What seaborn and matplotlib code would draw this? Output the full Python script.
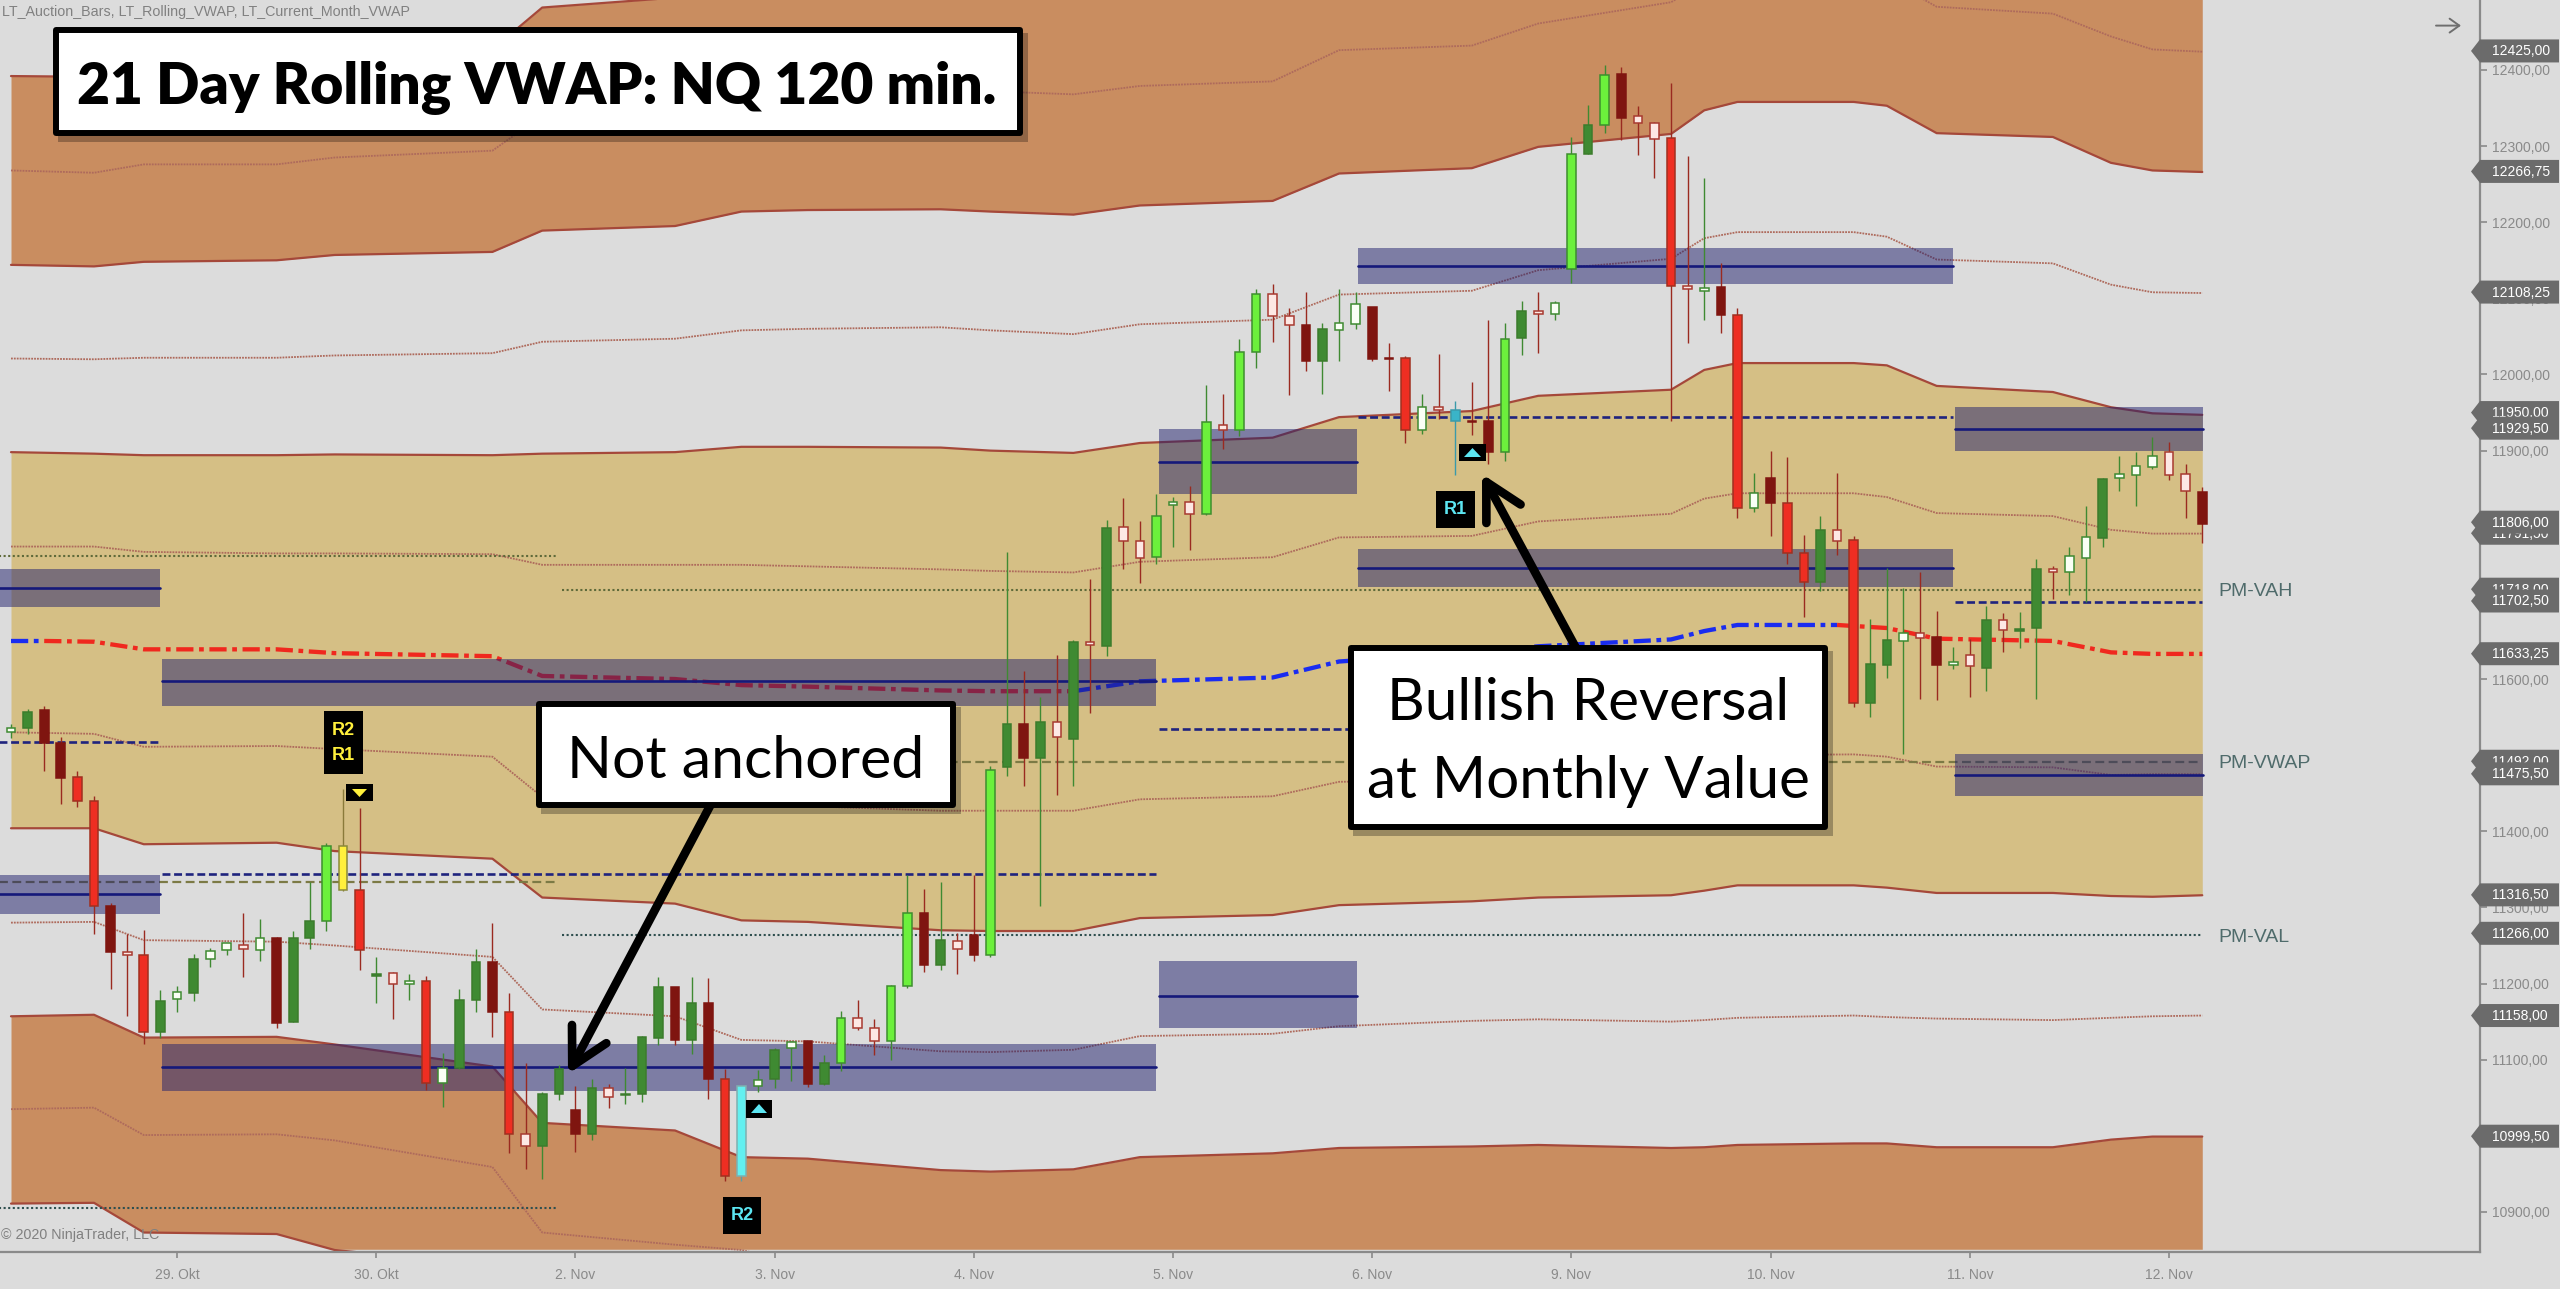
import numpy as np
import matplotlib
matplotlib.use("Agg")
import matplotlib.pyplot as plt
from matplotlib.patches import Rectangle, Polygon, FancyArrowPatch
import seaborn as sns

# ---------- candles (prices) ----------
high = [11541,11561,11565,11524,11479,11447,11306,11265,11271,11191,11197,11239,11247,11253,11293,11285,11261,11269,11333,11384,11455,11430,11235,11215,11212,11210,11109,11193,11245,11280,11187,11096,11058,11093,11066,11075,11068,11089,11131,11208,11196,11208,11207,11088,11067,11086,11115,11124,11124,11106,11164,11179,11154,11198,11343,11324,11333,11267,11343,11486,11767,11610,11577,11632,11651,11731,11809,
        11838,11807,11843,11839,11853,11986,11975,12046,12112,12119,12087,12108,12067,12112,12108,12089,12041,12024,11974,12027,11965,11990,12071,12067,12097,12109,12096,12312,12354,12407,12404,12353,12331,12383,12287,12258,12147,12087,11871,11899,11892,11789,11814,11871,
        11788,11679,11746,11720,11741,11689,11642,11653,11696,11687,11688,11758,11749,11774,11827,11864,11893,11898,11918,11911,11883,11852]
body_top = [11536,11557,11559,11516,11471,11440,11302,11242,11237,11177,11189,11232,11243,11253,11251,11260,11260,11260,11282,11381,11381,11323,11212,11214,11203,11203,11089,11178,11228,11228,11163,11003,11055,11088,11034,11063,11063,11055,11130,11196,11196,11175,11175,11074,11066,11073,11113,11123,11124,11095,11155,11155,11141,11197,11293,11293,11257,11256,11264,11480,11541,11541,11544,11544,11649,11649,11799,
            11800,11781,11814,11833,11833,11937,11934,12030,12106,12106,12077,12065,12060,12067,12092,12088,12022,12022,11957,11957,11953,11939,11939,12047,12083,12083,12094,12290,12328,12394,12395,12339,12330,12311,12116,12114,12115,12078,11845,11864,11831,11766,11796,11796,
            11782,11620,11651,11660,11660,11655,11623,11632,11678,11678,11666,11745,11745,11761,11786,11863,11869,11880,11893,11898,11869,11846]
body_bot = [11530,11536,11516,11470,11440,11302,11242,11237,11136,11136,11180,11187,11232,11244,11246,11244,11148,11150,11260,11282,11323,11244,11210,11199,11199,11070,11070,11089,11178,11163,11003,10987,10986,11055,11002,11003,11051,11053,11055,11129,11126,11126,11074,10947,10947,11066,11074,11116,11068,11068,11095,11141,11125,11124,11197,11224,11224,11245,11238,11238,11484,11496,11496,11524,11521,11645,11643,
            11781,11759,11760,11829,11817,11817,11927,11927,12029,12077,12065,12018,12018,12059,12066,12020,12020,11927,11927,11953,11939,11937,11898,11898,12048,12079,12080,12139,12290,12328,12337,12330,12309,12116,12112,12110,12078,11824,11825,11831,11766,11728,11728,11781,
            11569,11569,11619,11650,11654,11619,11619,11617,11615,11665,11663,11667,11741,11741,11759,11785,11864,11868,11879,11868,11847,11804]
low = [11523,11528,11479,11436,11432,11265,11193,11158,11121,11128,11163,11177,11222,11237,11209,11229,11142,11149,11245,11269,11321,11218,11174,11154,11179,11060,11038,11088,11163,11130,10977,10956,10943,11047,10979,10994,11037,11042,11044,11119,11119,11107,11048,10941,10941,11058,11063,11072,11064,11067,11085,11139,11106,11100,11194,11215,11218,11212,11229,11235,11473,11460,11302,11448,11460,11555,11630,
       11745,11726,11751,11773,11770,11816,11902,11919,12009,12043,11973,12004,11974,12018,12060,12018,11978,11910,11922,11941,11868,11921,11882,11887,12026,12028,12072,12120,12289,12317,12308,12288,12258,11939,12041,12072,12055,11811,11819,11788,11751,11682,11716,11763,
       11563,11550,11602,11502,11574,11572,11613,11577,11584,11636,11641,11574,11705,11710,11701,11774,11847,11827,11876,11861,11811,11779]
kinds = ("wg g dr dr r r dr wr r g wg g wg wg wr wg dr g g l y r g wr wg r wg g g dr r wr g g dr g wr g g g dr g dr r c wg g wg dr g l wr wr l l dr g wr dr l g dr g wr g wr g "
         "wr wr l wg wr l wr l l wr wr dr g wg wg dr dr r wg wr t dr dr l g wr wg l g l dr wr wr r wr wg dr r wg dr r r g wr "
         "r g g wg wr dr wg wr g wr g g wr wg wg g wg wg wg wr wr dr").split()

# ---------- rolling VWAP bands, read at these bar positions ----------
knots = [0,5,8,16,19.5,29,32,40,44,48,56,59,64,68,76,80,88,92,100,102,104,111,113,116,123,126.5,129,132]
band_p6 = [12392,12391,12395,12398,12405,12427,12482,12495,12510,12515,12520,12520,12520,12530,12540,12560,12560,12580,12600,12620,12640,12640,12640,12620,12610,12590,12585,12583]
band_p5 = [12268,12265,12276,12276,12285,12294,12340,12345,12360,12365,12375,12372,12368,12379,12385,12426,12432,12461,12489,12515,12530,12530,12520,12483,12474,12444,12427,12424]
band_p4 = [12144,12142,12148,12150,12157,12161,12189,12195,12214,12216,12217,12214,12210,12222,12228,12264,12271,12299,12316,12347,12358,12358,12353,12317,12312,12278,12268,12266]
band_p3 = [12021,12020,12022,12022,12025,12028,12043,12047,12058,12060,12062,12058,12053,12066,12072,12105,12110,12137,12152,12179,12187,12187,12181,12151,12146,12118,12108,12107]
band_p2 = [11898,11896,11894,11894,11895,11894,11896,11898,11905,11905,11904,11900,11897,11910,11917,11944,11952,11972,11980,12006,12015,12015,12012,11985,11977,11957,11949,11947]
band_p1 = [11774,11774,11767,11765,11765,11764,11750,11750,11750,11748,11744,11742,11740,11754,11760,11786,11788,11807,11817,11837,11844,11844,11839,11818,11814,11796,11791,11791]
band_m1 = [11530,11528,11511,11512,11508,11498,11445,11438,11435,11433,11427,11427,11427,11442,11446,11465,11467,11472,11480,11492,11500,11501,11498,11485,11484,11474,11475,11475]
band_m2 = [11404,11404,11383,11385,11374,11364,11313,11305,11283,11281,11270,11269,11269,11286,11290,11303,11308,11313,11316,11322,11329,11329,11326,11319,11319,11315,11314,11316]
band_m3 = [11280,11281,11257,11255,11250,11235,11166,11157,11126,11124,11111,11110,11113,11131,11134,11144,11151,11153,11150,11152,11155,11158,11156,11154,11152,11155,11157,11158]
band_m4 = [11157,11159,11129,11130,11120,11091,11017,11007,10972,10970,10955,10953,10956,10972,10977,10984,10986,10988,10984,10985,10988,10990,10990,10985,10985,10995,10999,10999]
band_m5 = [11035,11037,11001,11002,10994,10959,10873,10857,10850,10830,10820,10820,10820,10825,10828,10830,10830,10830,10830,10830,10830,10830,10830,10830,10830,10830,10830,10830]
band_m6 = [10911,10912,10873,10871,10850,10830,10760,10750,10720,10718,10700,10700,10700,10720,10720,10730,10740,10740,10740,10740,10740,10740,10740,10730,10730,10735,10740,10740]

vwap_blue1_x = [0,2];  vwap_blue1 = [11650,11650]
vwap_red1_x = [2,5,8,16,19.5,29,32,40,44,48,56,59,64]
vwap_red1 = [11650,11649,11639,11639,11634,11630,11604,11600,11592,11590,11585,11584,11584]
vwap_blue2_x = [64,68,76,80,88,92,100,102,104,110]
vwap_blue2 = [11584,11597,11602,11623,11635,11643,11652,11663,11671,11671]
vwap_red2_x = [110,113,116,123,126.5,129,132]
vwap_red2 = [11671,11667,11653,11650,11635,11633,11633]

# ---------- value zones: start, end, top, bottom, centre ----------
zone_start  = [-0.7,9.1,-0.7,9.1,69.15,69.15,81.15,81.15,117.1,117.1]
zone_end    = [9.0,69.0,9.0,69.0,81.1,81.1,117.0,117.0,132.05,132.05]
zone_top    = [11744,11626,11342,11120,11229,11928,12166,11771,11957,11501]
zone_bottom = [11694,11565,11292,11059,11142,11843,12119,11721,11899,11447]
zone_centre = [11719,11597,11317,11091,11184,11885,12142,11746,11928,11474]

# ---------- horizontal levels: start, end, price, colour, style ----------
level_start = [-0.7,33.2,-0.7,9.1,-0.7,-0.7,33.2,33.2,69.15,81.15,117.1]
level_end   = [32.9,132,32.9,69,9,32.9,132,132,81,117,132]
level_price = [11762,11717,11333,11344,11517,10905,11264,11491,11535,11944,11701]
level_kind  = ["vah","vah","vwap","poc","poc","val","val","vwap","poc","poc","poc"]

# ---------- axis text ----------
date_bars = [10,22,34,46,58,70,82,94,106,118,130]
date_labels = ["29. Okt","30. Okt","2. Nov","3. Nov","4. Nov","5. Nov","6. Nov","9. Nov","10. Nov","11. Nov","12. Nov"]
price_ticks = [12400,12300,12200,12100,12000,11900,11800,11700,11600,11500,11400,11300,11200,11100,11000,10900]
tag_prices = [12425,12266.75,12108.25,11950,11929.5,11791.5,11806,11718,11702.5,11633.25,11492,11475.5,11316.5,11266,11158,10999.5]

BG = "#DCDCDC"; GREY = "#8A8A8A"
sns.set_theme(style="white", rc={"figure.facecolor":BG,"axes.facecolor":BG,"savefig.facecolor":BG,
    "axes.edgecolor":GREY,"xtick.color":GREY,"ytick.color":GREY,"text.color":GREY})
plt.rcParams["font.family"] = ["Liberation Sans","DejaVu Sans"]

W,H = 2560,1289
fig = plt.figure(figsize=(W/100,H/100),dpi=100)
ax = fig.add_axes([0,(H-1252)/H,2480/W,1252/H])
ax.set_xlim(-0.663,148.73)
ax.set_ylim(10847.4,12491.9)

k = np.array(knots)
ax.fill_between(k,band_m2,band_p2,color="#D5BF85",lw=0,zorder=1)
ax.fill_between(k,band_p4,band_p6,color="#C98D60",lw=0,zorder=1)
ax.fill_between(k,np.maximum(band_m6,10851),band_m4,color="#C98D60",lw=0,zorder=1)

for b in (band_p6,band_p4,band_p2,band_m2,band_m4,band_m6):
    sns.lineplot(x=knots,y=b,ax=ax,estimator=None,color="#A5483A",lw=1.6,zorder=2)
for b in (band_p5,band_p3,band_p1,band_m1,band_m3,band_m5):
    sns.lineplot(x=knots,y=b,ax=ax,estimator=None,color="#AE6A5C",lw=1.3,linestyle=(0,(1,0.6)),zorder=2)

dd = (0,(4,1.3,1.1,1.3))
for xs,ys,c in ((vwap_blue1_x,vwap_blue1,"#1A2CF0"),(vwap_red1_x,vwap_red1,"#F0281E"),
                (vwap_blue2_x,vwap_blue2,"#1A2CF0"),(vwap_red2_x,vwap_red2,"#F0281E")):
    sns.lineplot(x=xs,y=ys,ax=ax,estimator=None,color=c,lw=3.1,linestyle=dd,zorder=3)

lvl = {"vah":("#5F6A3A",(0,(1,1.2)),1.5),"val":("#2F4F4F",(0,(1,1.2)),1.5),
       "vwap":("#7C7A45",(0,(4,2)),1.6),"poc":("#1F237E",(0,(3,1.4)),1.9)}
for s,e,p,kd in zip(level_start,level_end,level_price,level_kind):
    c,ls,lw = lvl[kd]
    ax.plot([s,e],[p,p],color=c,ls=ls,lw=lw,zorder=3)

for s,e,t,b,c in zip(zone_start,zone_end,zone_top,zone_bottom,zone_centre):
    ax.add_patch(Rectangle((s,b),e-s,t-b,fc="#20206E",ec="none",alpha=0.5,zorder=4))
    ax.plot([s,e],[c,c],color="#15197A",lw=1.9,zorder=4.5)

style = {"g":("#3F8A32","#3C7C2C","#3F8A32"),"l":("#6CF03C","#3E8E2E","#3F8A32"),
         "r":("#EE2E22","#A03020","#9A2A20"),"dr":("#7F1510","#7F1510","#9A2A20"),
         "wg":("#FAFFF5","#3F8A32","#3F8A32"),"wr":("#FDE8E4","#A83A30","#9A2A20"),
         "y":("#FFF03C","#8A8A3A","#8A7A3A"),"c":("#62F0F0","#7FB0B0","#5AA0A8"),
         "t":("#3AB4C8","#3A9AAA","#3A9AAA")}
for i,(h,t,b,l,kd) in enumerate(zip(high,body_top,body_bot,low,kinds)):
    f,e,w = style[kd]
    ax.vlines(i,l,h,color=w,lw=1.0,zorder=5)
    ax.bar(i,t-b,bottom=b,width=0.52,color=f,edgecolor=e,lw=1.1,zorder=6)

for s in ("left","top"):
    ax.spines[s].set_visible(False)
for s in ("right","bottom"):
    ax.spines[s].set_color(GREY); ax.spines[s].set_linewidth(1.6)
ax.yaxis.tick_right()
ax.set_yticks(price_ticks)
ax.set_yticklabels([f"{p:.2f}".replace(".",",") for p in price_ticks],fontsize=10)
ax.tick_params(axis="y",length=5,width=1.2,pad=3.6,color=GREY,right=True)
ax.set_xticks(date_bars)
ax.set_xticklabels(date_labels,fontsize=10)
ax.tick_params(axis="x",length=4.5,width=1.2,pad=7,color=GREY,bottom=True)

# ---------- overlay in picture pixels for labels, callouts and tags ----------
ov = fig.add_axes([0,0,1,1],zorder=10)
ov.set_xlim(0,W); ov.set_ylim(H,0); ov.axis("off"); ov.patch.set_alpha(0)
fig.canvas.draw()
def ypx(p):
    return H-ax.transData.transform((0,p))[1]

z = 20
for p in tag_prices:
    y = ypx(p)
    ov.add_patch(Polygon([(2471,y),(2480,y-11.5),(2559,y-11.5),(2559,y+11.5),(2480,y+11.5)],fc="#6B6B6B",ec="none",zorder=z))
    ov.text(2492,y+0.5,f"{p:.2f}".replace(".",","),color="white",fontsize=10,va="center",ha="left",zorder=z+0.5)
    z += 1

ov.add_patch(FancyArrowPatch((2436,25.6),(2461,25.6),arrowstyle="->,head_length=7,head_width=5",lw=1.4,color="#6E6E6E",mutation_scale=1,shrinkA=0,shrinkB=0))
ov.text(1.5,12,"LT_Auction_Bars, LT_Rolling_VWAP, LT_Current_Month_VWAP",fontsize=10.3,color="#808080",va="center")
ov.text(1,1235,"© 2020 NinjaTrader, LLC",fontsize=10.3,color="#808080",va="center")
for t,y in (("PM-VAH",592),("PM-VWAP",764),("PM-VAL",937)):
    ov.text(2218,y,t,fontsize=14,color="#4F6B6B",va="center")

# signal tags
def tag(x0,y0,x1,y1):
    ov.add_patch(Rectangle((x0,y0),x1-x0,y1-y0,fc="black",ec="none",zorder=8))
tag(324,711,363,774)
ov.text(343.5,730.5,"R2",color="#FFF03C",fontsize=13,fontweight="bold",ha="center",va="center",zorder=9)
ov.text(343.5,756,"R1",color="#FFF03C",fontsize=13,fontweight="bold",ha="center",va="center",zorder=9)
tag(723,1197,761,1234)
ov.text(742,1216,"R2",color="#5CE6F2",fontsize=13,fontweight="bold",ha="center",va="center",zorder=9)
tag(1436,491,1475,527.5)
ov.text(1455.5,510,"R1",color="#5CE6F2",fontsize=13,fontweight="bold",ha="center",va="center",zorder=9)
tag(346,784,373,801)
ov.add_patch(Polygon([(352,789),(367,789),(359.5,797)],fc="#FFF03C",ec="none",zorder=9))
tag(746,1100,772,1118)
ov.add_patch(Polygon([(751,1113),(767,1113),(759,1104)],fc="#5CE6F2",ec="none",zorder=9))
tag(1459,444,1486,461)
ov.add_patch(Polygon([(1464,457),(1481,457),(1472.5,448)],fc="#5CE6F2",ec="none",zorder=9))

# arrows
for a,b in (((710,806),(568,1074)),((1576,648),(1482,474))):
    ov.add_patch(FancyArrowPatch(a,b,arrowstyle="->,head_length=26,head_width=14",lw=6.2,color="black",
                 mutation_scale=1,shrinkA=0,shrinkB=0,capstyle="round",joinstyle="round",zorder=15))

# callout boxes
def box(x0,y0,x1,y1,lw=4.3):
    ov.add_patch(Rectangle((x0+5,y0+6),x1-x0,y1-y0,fc="black",ec="none",alpha=0.28,zorder=16))
    ov.add_patch(Rectangle((x0+3,y0+3),x1-x0-6,y1-y0-6,fc="white",ec="black",lw=lw,joinstyle="round",zorder=17))
box(53,27,1023,136)
ov.text(537,88,"21 Day Rolling VWAP: NQ 120 min.",family=["Lato","DejaVu Sans"],fontweight="heavy",fontsize=41,color="black",ha="center",va="center",zorder=18)
box(536,701,956,808)
ov.text(746,762,"Not anchored",family=["Lato","DejaVu Sans"],fontsize=42.5,color="black",ha="center",va="center",zorder=18)
box(1348,645,1828,830)
ov.text(1588,704,"Bullish Reversal",family=["Lato","DejaVu Sans"],fontsize=42,color="black",ha="center",va="center",zorder=18)
ov.text(1588,781,"at Monthly Value",family=["Lato","DejaVu Sans"],fontsize=42,color="black",ha="center",va="center",zorder=18)

fig.savefig("out.png",dpi=100)
